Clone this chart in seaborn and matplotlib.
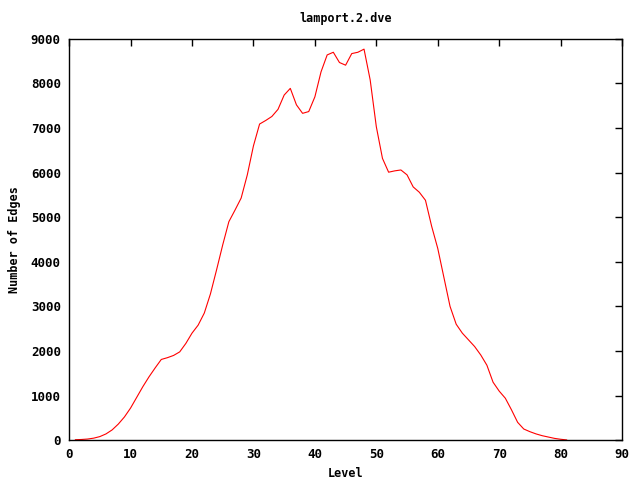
import numpy as np
import pandas as pd
import matplotlib
matplotlib.use("Agg")
import matplotlib.pyplot as plt
import seaborn as sns

# Edges per BFS level
levels = list(range(1, 82))
edges = [
    10, 15, 25, 45, 80, 140, 230, 360, 520, 720,
    960, 1200, 1420, 1620, 1810, 1850, 1900, 1980, 2170, 2400,
    2580, 2850, 3280, 3820, 4380, 4900, 5160, 5430, 5950, 6600,
    7090, 7170, 7260, 7420, 7740, 7890, 7520, 7330, 7370, 7700,
    8260, 8640, 8700, 8470, 8410, 8670, 8700, 8770, 8080, 7030,
    6320, 6010, 6040, 6060, 5950, 5680, 5560, 5380, 4800, 4300,
    3650, 3000, 2600, 2400, 2250, 2100, 1910, 1680, 1300, 1100,
    940, 680, 400, 250, 190, 140, 100, 70, 40, 20,
    5,
]
x_ticks = list(range(0, 91, 10))
y_ticks = list(range(0, 9001, 1000))

df = pd.DataFrame({"Level": levels, "Edges": edges})

sns.set_style("white")
plt.rcParams['font.family'] = ['DejaVu Sans Mono']
plt.rcParams['font.weight'] = 'bold'
plt.rcParams['text.color'] = 'black'
plt.rcParams['axes.labelcolor'] = 'black'
plt.rcParams['xtick.color'] = 'black'
plt.rcParams['ytick.color'] = 'black'

fig = plt.figure(figsize=(6.4, 4.8), dpi=100)
ax = fig.add_axes([0.108, 0.083, 0.864, 0.836])

sns.lineplot(data=df, x="Level", y="Edges", color="red", linewidth=0.8, ax=ax)

ax.set_xlim(0, 90)
ax.set_ylim(0, 9000)
ax.set_xticks(x_ticks)
ax.set_yticks(y_ticks)
ax.tick_params(direction="in", top=True, right=True, length=5, width=1,
               labelsize=9, pad=6)
for lbl in ax.get_xticklabels() + ax.get_yticklabels():
    lbl.set_fontweight("bold")
for s in ax.spines.values():
    s.set_linewidth(1)
    s.set_color("black")

ax.set_title("lamport.2.dve", fontsize=8.5, fontweight="bold", pad=12)
ax.set_xlabel("Level", fontsize=8.5, fontweight="bold", labelpad=4)
ax.set_ylabel("Number of Edges", fontsize=8.5, fontweight="bold", labelpad=7)

fig.savefig("out.png", dpi=100)
